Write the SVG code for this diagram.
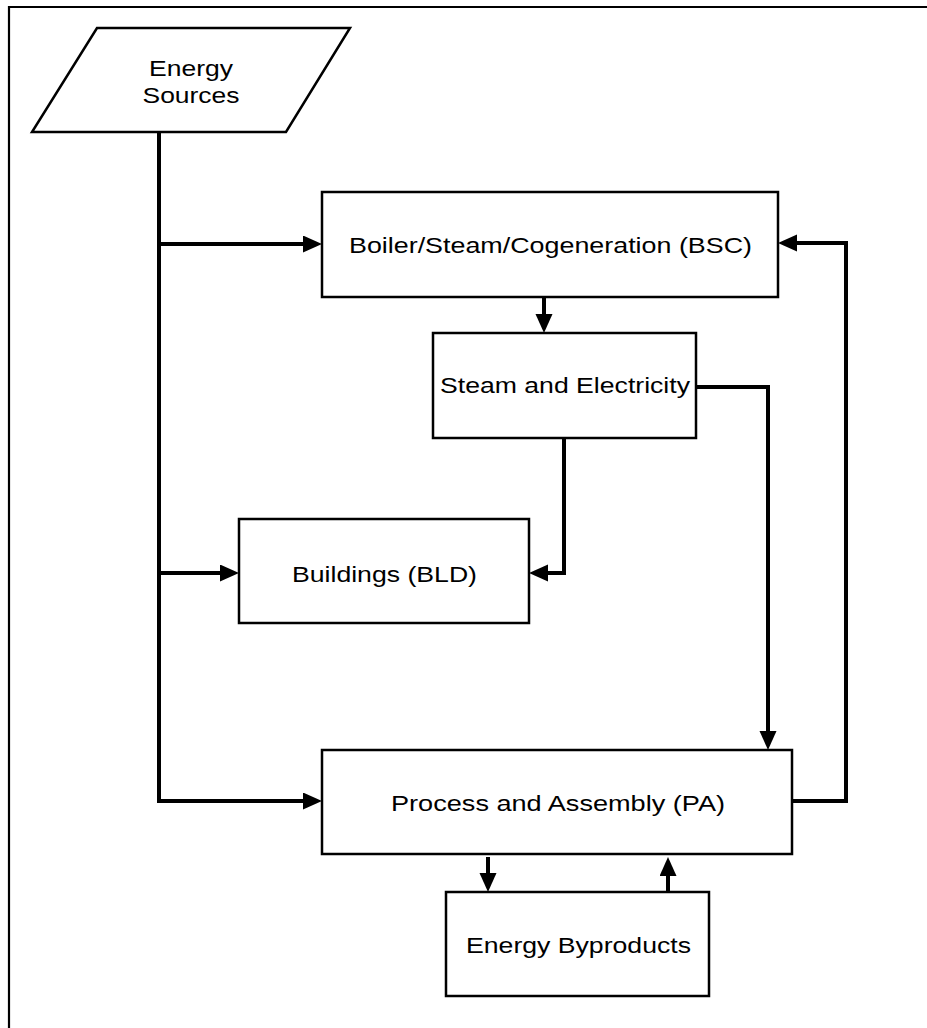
<svg xmlns="http://www.w3.org/2000/svg" width="927" height="1028" viewBox="0 0 927 1028">
<style>
.node{fill:#fff;stroke:#000;stroke-width:2.5}
.lbl{font-family:"Liberation Sans",Arial,sans-serif;font-size:22.5px;fill:#000;text-anchor:middle}
.con{fill:none;stroke:#000;stroke-width:4;stroke-linejoin:miter}
.frame{fill:none;stroke:#000;stroke-width:2.2}
</style>
<defs>
<marker id="ah" markerUnits="userSpaceOnUse" markerWidth="20" markerHeight="18" refX="9" refY="8.5" orient="auto">
<path d="M0,0 L19,8.5 L0,17 z" fill="#000"/>
</marker>
</defs>
<rect width="927" height="1028" fill="#fff"/>
<path class="frame" d="M9,1028 V7 H927"/>
<g id="energy-sources">
<polygon class="node" points="97,28 350,28 286,132 32,132"/>
<text class="lbl" x="191" y="76" textLength="84" lengthAdjust="spacingAndGlyphs">Energy</text>
<text class="lbl" x="191" y="103" textLength="97" lengthAdjust="spacingAndGlyphs">Sources</text>
</g>
<g id="bsc">
<rect class="node" x="322" y="192" width="456" height="105"/>
<text class="lbl" x="550.5" y="253" textLength="403" lengthAdjust="spacingAndGlyphs">Boiler/Steam/Cogeneration (BSC)</text>
</g>
<g id="steam-electricity">
<rect class="node" x="433" y="333" width="263" height="105"/>
<text class="lbl" x="565" y="393" textLength="250" lengthAdjust="spacingAndGlyphs">Steam and Electricity</text>
</g>
<g id="buildings">
<rect class="node" x="239" y="519" width="290" height="104"/>
<text class="lbl" x="384.5" y="582" textLength="185" lengthAdjust="spacingAndGlyphs">Buildings (BLD)</text>
</g>
<g id="process-assembly">
<rect class="node" x="322" y="750" width="470" height="104"/>
<text class="lbl" x="558" y="811" textLength="334" lengthAdjust="spacingAndGlyphs">Process and Assembly (PA)</text>
</g>
<g id="energy-byproducts">
<rect class="node" x="446" y="892" width="263" height="104"/>
<text class="lbl" x="578.5" y="953" textLength="225" lengthAdjust="spacingAndGlyphs">Energy Byproducts</text>
</g>
<g id="connectors">
<path class="con" d="M159,131 V801 H312" marker-end="url(#ah)"/>
<path class="con" d="M159,244 H312" marker-end="url(#ah)"/>
<path class="con" d="M159,573 H229" marker-end="url(#ah)"/>
<path class="con" d="M544,298 V323" marker-end="url(#ah)"/>
<path class="con" d="M696,387 H768 V740" marker-end="url(#ah)"/>
<path class="con" d="M564,438 V573 H539" marker-end="url(#ah)"/>
<path class="con" d="M792,801 H846 V243 H788" marker-end="url(#ah)"/>
<path class="con" d="M488,857 V882" marker-end="url(#ah)"/>
<path class="con" d="M668,892 V867" marker-end="url(#ah)"/>
</g>
</svg>
